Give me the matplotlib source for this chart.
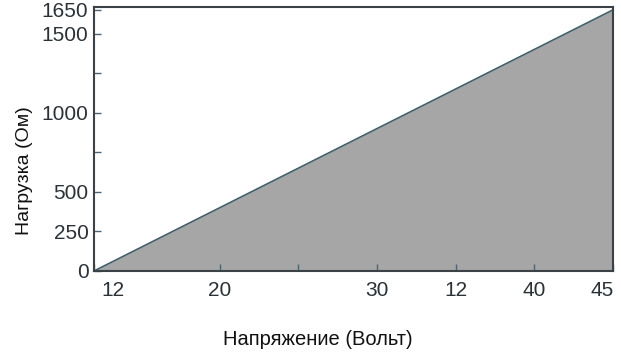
import matplotlib.pyplot as plt
import matplotlib.transforms as mtransforms

# data
voltage = [12, 45]
load = [0, 1650]

x_ticks = [12, 20, 25, 30, 35, 40, 45]
x_labels = ["12", "20", "", "30", "12", "40", "45"]
y_ticks = [0, 250, 500, 750, 1000, 1250, 1500, 1650]
y_labels = ["0", "250", "500", "", "1000", "", "1500", "1650"]

plt.rcParams['font.family'] = ['Liberation Sans', 'DejaVu Sans']

fig = plt.figure(figsize=(6.21, 3.55), dpi=100)
ax = fig.add_axes([94 / 621, 1 - 271 / 355, 519 / 621, 264 / 355])

ax.fill_between(voltage, load, 0, color="#a6a6a6", linewidth=0)
ax.plot(voltage, load, color="#3e5f6a", linewidth=1.2)

ax.set_xlim(12, 45)
ax.set_ylim(0, 1668)

ax.set_xticks(x_ticks)
ax.set_xticklabels(x_labels)
ax.set_yticks(y_ticks)
ax.set_yticklabels(y_labels)

ax.tick_params(axis="both", direction="in", length=5, width=1,
               color="#4a6670", labelsize=15, labelcolor="#2a3238")
ax.tick_params(axis="x", pad=7)
ax.tick_params(axis="y", pad=4)

# nudge first and last x labels inside
labs = ax.get_xticklabels()
labs[0].set_transform(labs[0].get_transform() +
                      mtransforms.ScaledTranslation(19 / 100, 0, fig.dpi_scale_trans))
labs[-1].set_transform(labs[-1].get_transform() +
                       mtransforms.ScaledTranslation(-11 / 100, 0, fig.dpi_scale_trans))

for s in ax.spines.values():
    s.set_color("#3a4248")
    s.set_linewidth(1.5)

ax.set_xlabel("Напряжение (Вольт)", fontsize=14.5, color="#111111")
ax.xaxis.set_label_coords(0.432, -0.222)
ax.set_ylabel("Нагрузка (Ом)", fontsize=14, color="#111111")
ax.yaxis.set_label_coords(-0.118, 0.38)

fig.savefig("out.png", dpi=100)
